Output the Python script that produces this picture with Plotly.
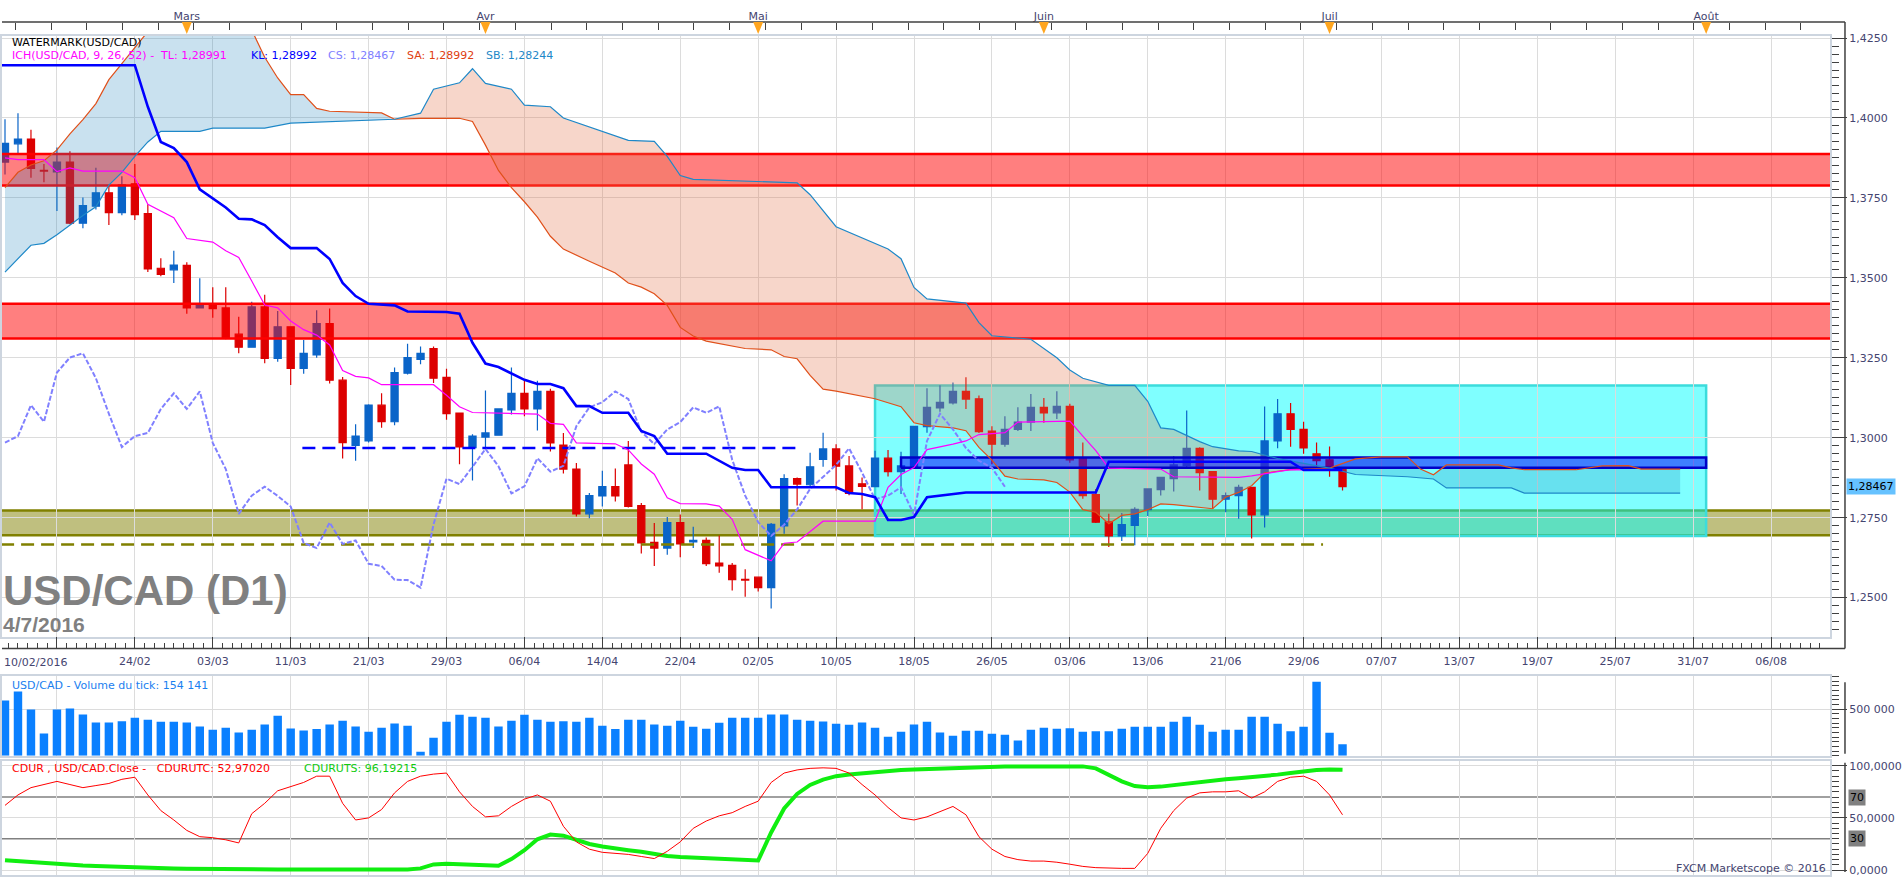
import plotly.graph_objects as go

# ---------------------------------------------------------------------------
# data: one bar per trading day, index 0 = 10/02/2016,
# index 103 = 04/07/2016 (future area on the right is calendar days)
# ---------------------------------------------------------------------------
opens = [1.3862, 1.3919, 1.3934, 1.3836, 1.3831, 1.3862, 1.3671, 1.3724, 1.3766, 1.3704,
         1.3794, 1.3701, 1.3530, 1.3525, 1.3539, 1.3406, 1.3416, 1.3406, 1.3324, 1.3283,
         1.3409, 1.3248, 1.3347, 1.3217, 1.3259, 1.3357, 1.3180, 1.2976, 1.2990, 1.3102,
         1.3050, 1.3202, 1.3245, 1.3279, 1.3189, 1.3077, 1.2969, 1.3002, 1.3008, 1.3087,
         1.3139, 1.3090, 1.3145, 1.2977, 1.2902, 1.2762, 1.2818, 1.2847, 1.2915, 1.2788,
         1.2673, 1.2655, 1.2735, 1.2674, 1.2679, 1.2608, 1.2601, 1.2557, 1.2564, 1.2531,
         1.2724, 1.2872, 1.2853, 1.2932, 1.2965, 1.2912, 1.2856, 1.2847, 1.2936, 1.2894,
         1.2907, 1.3035, 1.3093, 1.3109, 1.3145, 1.3122, 1.3021, 1.2980, 1.3026, 1.3049,
         1.3095, 1.3078, 1.3098, 1.2935, 1.2822, 1.2737, 1.2693, 1.2726, 1.2775, 1.2838,
         1.2872, 1.2913, 1.2967, 1.2894, 1.2808, 1.2819, 1.2845, 1.2759, 1.2990, 1.3075,
         1.3026, 1.2950, 1.2931, 1.2900]
highs = [1.3996, 1.4015, 1.3963, 1.3856, 1.3908, 1.3896, 1.3751, 1.3844, 1.3787, 1.3818,
         1.3856, 1.3730, 1.3561, 1.3585, 1.3549, 1.3499, 1.3471, 1.3471, 1.3378, 1.3425,
         1.3447, 1.3396, 1.3349, 1.3306, 1.3399, 1.3404, 1.3190, 1.3042, 1.3105, 1.3139,
         1.3220, 1.3294, 1.3285, 1.3285, 1.3216, 1.3079, 1.3011, 1.3148, 1.3092, 1.3220,
         1.3180, 1.3178, 1.3153, 1.3015, 1.2921, 1.2827, 1.2897, 1.2904, 1.2990, 1.2796,
         1.2733, 1.2752, 1.2760, 1.2722, 1.2688, 1.2694, 1.2608, 1.2589, 1.2565, 1.2733,
         1.2886, 1.2876, 1.2953, 1.3016, 1.2980, 1.2943, 1.2876, 1.2959, 1.2962, 1.2956,
         1.3037, 1.3155, 1.3164, 1.3173, 1.3189, 1.3132, 1.3036, 1.3067, 1.3095, 1.3137,
         1.3124, 1.3145, 1.3106, 1.2985, 1.2840, 1.2762, 1.2765, 1.2783, 1.2842, 1.2877,
         1.2943, 1.3085, 1.2970, 1.2895, 1.2829, 1.2853, 1.2846, 1.3098, 1.3121, 1.3109,
         1.3050, 1.2985, 1.2973, 1.2905]
lows = [1.3823, 1.3885, 1.3813, 1.3799, 1.3709, 1.3668, 1.3655, 1.3714, 1.3665, 1.3696,
        1.3681, 1.3518, 1.3505, 1.3484, 1.3388, 1.3405, 1.3375, 1.3308, 1.3264, 1.3282,
        1.3233, 1.3238, 1.3165, 1.3200, 1.3250, 1.3170, 1.2935, 1.2928, 1.2985, 1.3031,
        1.3039, 1.3198, 1.3230, 1.3171, 1.3056, 1.2917, 1.2866, 1.2969, 1.3006, 1.3073,
        1.3067, 1.3023, 1.2957, 1.2888, 1.2754, 1.2748, 1.2785, 1.2801, 1.2782, 1.2638,
        1.2599, 1.2634, 1.2626, 1.2655, 1.2599, 1.2578, 1.2522, 1.2503, 1.2519, 1.2466,
        1.2700, 1.2788, 1.2845, 1.2909, 1.2835, 1.2820, 1.2776, 1.2845, 1.2879, 1.2824,
        1.2902, 1.3016, 1.3081, 1.3104, 1.3090, 1.3015, 1.2917, 1.2972, 1.3021, 1.3021,
        1.3047, 1.3059, 1.2922, 1.2809, 1.2733, 1.2658, 1.2677, 1.2664, 1.2755, 1.2819,
        1.2832, 1.2902, 1.2835, 1.2778, 1.2767, 1.2747, 1.2685, 1.2719, 1.2967, 1.2972,
        1.2950, 1.2905, 1.2878, 1.2835]
closes = [1.3921, 1.3934, 1.3842, 1.3834, 1.3862, 1.3671, 1.3726, 1.3766, 1.3704, 1.3791,
          1.3698, 1.3528, 1.3511, 1.3540, 1.3406, 1.3419, 1.3404, 1.3311, 1.3283, 1.3409,
          1.3248, 1.3347, 1.3217, 1.3264, 1.3357, 1.3180, 1.2985, 1.3005, 1.3102, 1.3050,
          1.3204, 1.3251, 1.3264, 1.3186, 1.3075, 1.2971, 1.3005, 1.3015, 1.3090, 1.3139,
          1.3090, 1.3145, 1.2984, 1.2902, 1.2762, 1.2819, 1.2847, 1.2818, 1.2785, 1.2671,
          1.2655, 1.2735, 1.2668, 1.2679, 1.2606, 1.2599, 1.2556, 1.2555, 1.2531, 1.2729,
          1.2872, 1.2855, 1.2909, 1.2965, 1.2911, 1.2826, 1.2848, 1.2936, 1.2894, 1.2912,
          1.3036, 1.3095, 1.3111, 1.3145, 1.3121, 1.3019, 1.2980, 1.3026, 1.3049, 1.3095,
          1.3078, 1.3098, 1.2931, 1.2819, 1.2736, 1.2693, 1.2728, 1.2776, 1.2840, 1.2876,
          1.2915, 1.2967, 1.2891, 1.2808, 1.2819, 1.2845, 1.2759, 1.2990, 1.3075, 1.3026,
          1.2968, 1.2928, 1.2906, 1.28467]

volumes = [593000, 689000, 496000, 239000, 496000, 507000, 443000, 357000, 357000, 371000,
           407000, 386000, 364000, 364000, 357000, 314000, 279000, 300000, 250000, 279000,
           336000, 429000, 293000, 271000, 286000, 336000, 375000, 314000, 257000, 300000,
           346000, 321000, 43000, 193000, 364000, 439000, 418000, 407000, 314000, 375000,
           439000, 386000, 364000, 371000, 364000, 407000, 321000, 286000, 386000, 386000,
           336000, 321000, 375000, 311000, 289000, 354000, 407000, 407000, 407000, 443000,
           443000, 386000, 375000, 368000, 343000, 332000, 357000, 300000, 204000, 257000,
           336000, 364000, 250000, 214000, 268000, 268000, 236000, 225000, 164000, 279000,
           300000, 289000, 296000, 257000, 264000, 264000, 289000, 311000, 311000, 311000,
           364000, 418000, 332000, 257000, 279000, 279000, 418000, 418000, 343000, 264000,
           311000, 793000, 246000, 125000]

cdur_utc = [62, 72, 79, 82, 85, 82, 79, 81, 83, 87,
            89, 72, 57, 48, 38, 32, 31, 29, 26, 54,
            64, 76, 80, 84, 90, 90, 64, 48, 50, 58,
            74, 85, 90, 92, 93, 75, 61, 51, 52, 61,
            68, 72, 66, 42, 27, 20, 17, 16, 15, 13,
            11, 18, 27, 40, 47, 52, 55, 61, 66, 84,
            93, 96, 97.5, 98, 97.5, 93, 82, 72, 60, 50,
            48, 51, 56, 61, 53, 32, 20, 13, 10, 8.6,
            8.6, 7.5, 5.6, 3.5, 2.3, 1.6, 1.6, 1.6, 16, 40,
            57, 69, 74, 75, 75, 76, 69, 75, 85, 89,
            90, 85, 72, 52.97]
cdur_uts = [9.5, 8.5, 7.5, 6.5, 5.8, 5.2, 4.3, 3.8, 3.3, 2.6,
            2.2, 1.9, 1.6, 1.5, 1.2, 1.0, 0.8, 0.6, 0.6, 0.6,
            0.6, 0.6, 0.6, 0.6, 0.6, 0.6, 0.6, 0.6, 0.6, 0.6,
            0.6, 0.6, 1.6, 5.4, 6.0, 5.6, 5.2, 4.6, 4.1, 10.5,
            19, 29.5, 34, 33, 29, 25, 22.5, 20.5, 19, 17.5,
            15.5, 13.5, 12.5, 12, 11.2, 10.5, 9.8, 9.2, 9.2, 36,
            59, 73, 81.6, 86.7, 90, 91.7, 93, 94, 95, 96,
            96.5, 97, 97.5, 98, 98.5, 99, 99.4, 99.4, 99.4, 99.4,
            99.4, 99.4, 99.4, 99.4, 97.5, 91.5, 85, 80.5, 79.4, 80,
            81.5, 83, 84.5, 86, 87, 88, 89, 90, 91.5, 93,
            94.5, 96, 96.5, 96.19]

# Ichimoku lines read as (bar index, price) vertices
tenkan_i = [0, 1, 3, 4, 5, 6, 9, 10, 11, 13, 14, 16, 17, 18, 19, 20, 21, 22, 23, 24,
            25, 26, 27, 28, 29, 33, 34, 35, 36, 41, 42, 43, 44, 47, 48, 49, 50, 51, 52, 54,
            55, 56, 57, 58, 59, 60, 61, 63, 67, 68, 69, 70, 71, 73, 74, 75, 77, 78, 82, 83,
            84, 85, 89, 90, 95, 96, 97, 99, 103]
tenkan_v = [1.3875, 1.3870, 1.3870, 1.3832, 1.3844, 1.3834, 1.3834, 1.3813, 1.3730, 1.3688,
            1.3623, 1.3612, 1.3585, 1.3564, 1.3490, 1.3415, 1.3406, 1.3365, 1.3338, 1.3321,
            1.3290, 1.3210, 1.3192, 1.3187, 1.3166, 1.3166, 1.3133, 1.3097, 1.3079, 1.3074,
            1.3045, 1.3042, 1.2984, 1.2981, 1.2962, 1.2918, 1.2886, 1.2812, 1.2794, 1.2793,
            1.2786, 1.2745, 1.2650, 1.2633, 1.2615, 1.2670, 1.2674, 1.2739, 1.2739, 1.2845,
            1.2885, 1.2907, 1.2963, 1.2980, 1.2990, 1.3010, 1.3016, 1.3049, 1.3052, 1.3005,
            1.2960, 1.2905, 1.2902, 1.2878, 1.2876, 1.2881, 1.2888, 1.2900, 1.28991]

kijun_i = [-0.3, 10, 11, 12, 13, 14, 15, 16, 17, 18, 19, 20, 21, 22, 24, 25, 26, 27, 28, 30,
           31, 34, 35, 36, 37, 38, 39, 40, 41, 42, 43, 44, 45, 46, 48, 49, 50, 51, 54, 55,
           56, 57, 58, 59, 64, 65, 66, 67, 68, 69, 70, 71, 72, 73, 74, 84, 85, 99, 100, 103]
kijun_v = [1.4165, 1.4165, 1.4035, 1.3925, 1.3906, 1.3862, 1.3777, 1.3749, 1.3720, 1.3685,
           1.3683, 1.3665, 1.3627, 1.3593, 1.3593, 1.3559, 1.3484, 1.3443, 1.3419, 1.3414,
           1.3395, 1.3393, 1.3388, 1.3297, 1.3232, 1.3221, 1.3200, 1.3181, 1.3168, 1.3168,
           1.3155, 1.3099, 1.3099, 1.3078, 1.3078, 1.3021, 1.3005, 1.2950, 1.2950, 1.2929,
           1.2906, 1.2899, 1.2899, 1.2845, 1.2845, 1.2827, 1.2824, 1.2814, 1.2743, 1.2743,
           1.2752, 1.2814, 1.2819, 1.2824, 1.2829, 1.2829, 1.2925, 1.2925, 1.28992, 1.28992]

# lagging span, bars 0..77
chikou = [1.2985, 1.3005, 1.3102, 1.3050, 1.3204, 1.3251, 1.3264, 1.3186, 1.3075, 1.2971,
          1.3005, 1.3015, 1.3090, 1.3139, 1.3090, 1.3145, 1.2984, 1.2902, 1.2762, 1.2819,
          1.2847, 1.2818, 1.2785, 1.2671, 1.2655, 1.2735, 1.2668, 1.2679, 1.2606, 1.2599,
          1.2556, 1.2555, 1.2531, 1.2729, 1.2872, 1.2855, 1.2909, 1.2965, 1.2911, 1.2826,
          1.2848, 1.2936, 1.2894, 1.2912, 1.3036, 1.3095, 1.3111, 1.3145, 1.3121, 1.3019,
          1.2980, 1.3026, 1.3049, 1.3095, 1.3078, 1.3098, 1.2931, 1.2819, 1.2736, 1.2693,
          1.2728, 1.2776, 1.2840, 1.2876, 1.2915, 1.2967, 1.2891, 1.2808, 1.2819, 1.2845,
          1.2759, 1.2990, 1.3075, 1.3026, 1.2968, 1.2928, 1.2906, 1.28467]

span_a_i = [0, 1, 2, 3, 4, 5, 6, 7, 8, 9, 10, 11, 12, 14, 16, 18, 19, 20, 21, 22,
            23, 24, 25, 29, 30, 32, 35, 36, 37, 38, 39, 40, 41, 42, 43, 45, 47, 48, 49, 50,
            51, 52, 53, 54, 57, 59, 60, 61, 62, 63, 64, 67, 68, 69, 70, 71, 73, 74, 75, 76,
            77, 78, 80, 81, 82, 83, 84, 85, 86, 87, 88, 89, 90, 92, 93, 94, 95, 96, 97, 99,
            102, 104, 106, 108, 109, 110, 111, 115, 116, 117, 121, 123, 125, 126, 129]
span_a_v = [1.3782, 1.3830, 1.3853, 1.3866, 1.3900, 1.3950, 1.3995, 1.4045, 1.4120, 1.4170,
            1.4220, 1.4268, 1.4320, 1.4390, 1.4400, 1.4340, 1.4275, 1.4190, 1.4125, 1.4073,
            1.4073, 1.4030, 1.4021, 1.4016, 1.3996, 1.3999, 1.3999, 1.3989, 1.3915, 1.3836,
            1.3782, 1.3738, 1.3690, 1.3630, 1.3590, 1.3552, 1.3515, 1.3484, 1.3471, 1.3450,
            1.3414, 1.3345, 1.3318, 1.3302, 1.3279, 1.3275, 1.3254, 1.3247, 1.3195, 1.3152,
            1.3146, 1.3122, 1.3109, 1.3097, 1.3047, 1.3038, 1.3031, 1.3022, 1.2970, 1.2930,
            1.2880, 1.2871, 1.2868, 1.2860, 1.2830, 1.2775, 1.2767, 1.2731, 1.2757, 1.2762,
            1.2775, 1.2793, 1.2791, 1.2781, 1.2778, 1.2814, 1.2829, 1.2850, 1.2890, 1.2900,
            1.2905, 1.2934, 1.2940, 1.2940, 1.2902, 1.2884, 1.2915, 1.2915, 1.2906, 1.2900,
            1.2900, 1.2912, 1.2913, 1.2902, 1.2902]

span_b_i = [0, 1, 2, 3, 4, 6, 7, 8, 9, 10, 11, 12, 15, 16, 20, 22, 28, 30, 32, 33,
            35, 36, 37, 39, 40, 42, 43, 46, 48, 50, 51, 52, 53, 61, 62, 64, 68, 69, 70, 71,
            74, 75, 76, 79, 81, 82, 83, 85, 87, 88, 89, 90, 92, 93, 95, 96, 98, 100, 102, 104,
            106, 108, 110, 111, 116, 117, 129]
span_b_v = [1.3518, 1.3560, 1.3602, 1.3608, 1.3635, 1.3695, 1.3722, 1.3790, 1.3830, 1.3880,
            1.3925, 1.3958, 1.3958, 1.3968, 1.3968, 1.3984, 1.3992, 1.3996, 1.4015, 1.4090,
            1.4110, 1.4154, 1.4108, 1.4090, 1.4040, 1.4035, 1.4000, 1.3958, 1.3930, 1.3927,
            1.3880, 1.3820, 1.3808, 1.3797, 1.3760, 1.3660, 1.3590, 1.3560, 1.3470, 1.3434,
            1.3421, 1.3360, 1.3319, 1.3308, 1.3250, 1.3212, 1.3186, 1.3164, 1.3164, 1.3114,
            1.3031, 1.3026, 1.2988, 1.2972, 1.2959, 1.2957, 1.2935, 1.2920, 1.2905, 1.2885,
            1.2881, 1.2878, 1.2871, 1.2843, 1.2843, 1.2827, 1.2827]

cloud_cross = [0, 30, 102, 129]          # where span A and span B swap

# drawn zones / levels
red_zones = [(1.37888, 1.38873), (1.33106, 1.34193)]
olive_zone = (1.26947, 1.27724)
olive_level, olive_from, olive_to = 1.26658, -0.3, 101.5
blue_level, blue_from, blue_to = 1.2968, 22.9, 60.9
cyan_box = (67.0, 131.0, 1.26925, 1.31637)
blue_box = (69.0, 131.0, 1.2906, 1.2938)
osc_levels = [70, 30]

date_idx = [4, 10, 16, 22, 28, 34, 40, 46, 52, 58, 64, 70, 76, 82, 88, 94, 100,
            106, 112, 118, 124, 130, 136]
date_lbl = ["", "24/02", "03/03", "11/03", "21/03", "29/03", "06/04", "14/04", "22/04",
            "02/05", "10/05", "18/05", "26/05", "03/06", "13/06", "21/06", "29/06",
            "07/07", "13/07", "19/07", "25/07", "31/07", "06/08"]
month_idx = [14, 37, 58, 80, 102, 131]
month_lbl = ["Mars", "Avr", "Mai", "Juin", "Juil", "Août"]

# ---------------------------------------------------------------------------
FIG_W, FIG_H = 1903, 878
PANEL_R = 1830      # right edge of the panels, px
AXIS_R = 1845       # dark axis rule, px
X_OFF, BAR_PX = 3, 13
x_range = [-X_OFF / BAR_PX, (PANEL_R - X_OFF) / BAR_PX]


def fx(p):
    return p / PANEL_R


def fy(p):
    return (FIG_H - p) / FIG_H


FONT = "DejaVu Sans"
TXT = "#454570"
GRID = "#dcdcdc"
FRAME = "#cdd5df"
DARK = "#404040"

idx = list(range(len(closes)))
fig = go.Figure()

# red resistance zones (above candles)
for lo, hi in red_zones:
    fig.add_trace(go.Scatter(x=[-1, 142, 142, -1, -1], y=[lo, lo, hi, hi, lo],
                             mode="lines", fill="toself", fillcolor="rgba(255,0,0,0.5)",
                             line=dict(color="#ff0000", width=2.5), hoverinfo="skip"))

# cloud
cloud_cols = ["rgba(30,130,190,0.24)", "rgba(230,120,80,0.30)", "rgba(30,130,190,0.24)"]
for k in range(len(cloud_cross) - 1):
    a, b = cloud_cross[k], cloud_cross[k + 1]
    xa = [i for i in span_a_i if a <= i <= b]
    ya = [v for i, v in zip(span_a_i, span_a_v) if a <= i <= b]
    xb = [i for i in span_b_i if a <= i <= b]
    yb = [v for i, v in zip(span_b_i, span_b_v) if a <= i <= b]
    fig.add_trace(go.Scatter(x=xa + xb[::-1], y=ya + yb[::-1], mode="lines",
                             fill="toself", fillcolor=cloud_cols[k],
                             line=dict(width=0), hoverinfo="skip"))

# blue box
x0, x1, lo, hi = blue_box
fig.add_trace(go.Scatter(x=[x0, x1, x1, x0, x0], y=[lo, lo, hi, hi, lo], mode="lines",
                         fill="toself", fillcolor="rgba(0,0,255,0.5)",
                         line=dict(color="#0000c8", width=2.5), hoverinfo="skip"))

fig.add_trace(go.Scatter(x=span_a_i, y=span_a_v, mode="lines",
                         line=dict(color="#e0501a", width=1.2), hoverinfo="skip"))
fig.add_trace(go.Scatter(x=span_b_i, y=span_b_v, mode="lines",
                         line=dict(color="#1e88c8", width=1.2), hoverinfo="skip"))

fig.add_trace(go.Scatter(x=[olive_from, olive_to], y=[olive_level, olive_level], mode="lines",
                         line=dict(color="#808000", width=2.5, dash="13px,7px"),
                         hoverinfo="skip"))
fig.add_trace(go.Scatter(x=[blue_from, blue_to], y=[blue_level, blue_level], mode="lines",
                         line=dict(color="#0000ff", width=2.5, dash="13px,7px"),
                         hoverinfo="skip"))

fig.add_trace(go.Scatter(x=list(range(len(chikou))), y=chikou, mode="lines",
                         line=dict(color="#8080ff", width=2, dash="5px,2px"),
                         hoverinfo="skip"))
fig.add_trace(go.Scatter(x=tenkan_i, y=tenkan_v, mode="lines",
                         line=dict(color="#ff00ff", width=1.2), hoverinfo="skip"))
fig.add_trace(go.Scatter(x=kijun_i, y=kijun_v, mode="lines",
                         line=dict(color="#0000ff", width=2.6), hoverinfo="skip"))

fig.add_trace(go.Candlestick(
    x=idx, open=opens, high=highs, low=lows, close=closes, whiskerwidth=0,
    increasing=dict(line=dict(color="#0a64c8", width=1.2), fillcolor="#0a64c8"),
    decreasing=dict(line=dict(color="#dc0000", width=1.2), fillcolor="#dc0000"),
    hoverinfo="skip"))

# volume
fig.add_trace(go.Bar(x=idx, y=volumes, xaxis="x2", yaxis="y2", width=0.65,
                     marker=dict(color="#0a80ff", line=dict(width=0)), hoverinfo="skip"))

# oscillator
fig.add_trace(go.Scatter(x=idx, y=cdur_uts, xaxis="x3", yaxis="y3", mode="lines",
                         line=dict(color="#10ee10", width=4), hoverinfo="skip"))
fig.add_trace(go.Scatter(x=idx, y=cdur_utc, xaxis="x3", yaxis="y3", mode="lines",
                         line=dict(color="#ff0000", width=1), hoverinfo="skip"))

# carriers for the month axis (top) and the date axis (bottom)
for ax in ("x4", "x5"):
    fig.add_trace(go.Scatter(x=[0], y=[1.3], xaxis=ax, yaxis="y", mode="markers",
                             marker=dict(opacity=0), hoverinfo="skip"))

tick_font = dict(family=FONT, size=11, color=TXT)
xcommon = dict(range=x_range, showticklabels=False, ticks="", tickmode="array",
               tickvals=date_idx, showgrid=True, gridcolor=GRID, gridwidth=1,
               zeroline=False, showline=True, mirror=True, linecolor=FRAME, linewidth=2)
ycommon = dict(side="right", ticks="outside", ticklen=15, tickcolor=DARK, tickwidth=1,
               showgrid=True, gridcolor=GRID, zeroline=False, showline=True, mirror=True,
               linecolor=FRAME, linewidth=2, tickfont=tick_font, ticklabeloverflow="allow")

fig.update_layout(
    width=FIG_W, height=FIG_H, margin=dict(l=0, r=FIG_W - PANEL_R, t=0, b=0),
    paper_bgcolor="white", plot_bgcolor="white", showlegend=False,
    separators=", ", boxgap=0.45, boxgroupgap=0, hovermode=False,
    xaxis=dict(**xcommon, anchor="y", rangeslider=dict(visible=False)),
    xaxis2=dict(**xcommon, anchor="y2"),
    xaxis3=dict(**xcommon, anchor="y3"),
    xaxis4=dict(overlaying="x", anchor="free", position=fy(18), side="top",
                range=x_range, tickmode="array", tickvals=month_idx, ticktext=month_lbl,
                ticks="inside", ticklen=0, showgrid=False, zeroline=False, showline=False,
                tickfont=tick_font,
                minor=dict(ticks="inside", ticklen=7, tickcolor=DARK, tickmode="linear",
                           tick0=0.8, dtick=2.75, showgrid=False)),
    xaxis5=dict(overlaying="x", anchor="free", position=fy(649), side="bottom",
                range=x_range, tickmode="array", tickvals=date_idx, ticktext=date_lbl,
                ticks="inside", ticklen=12, tickcolor=DARK, showgrid=False, zeroline=False,
                showline=False, tickfont=tick_font, ticklabelstandoff=4,
                minor=dict(ticks="inside", ticklen=6, tickcolor=DARK, tickmode="linear",
                           tick0=4, dtick=0.75, showgrid=False)),
    yaxis=dict(**ycommon, domain=[fy(637), fy(32)], range=[1.2378, 1.4257],
               tickmode="linear", tick0=1.25, dtick=0.025, tickformat=".4f",
               minor=dict(ticks="outside", ticklen=7, tickcolor=DARK, dtick=0.0025,
                          showgrid=False)),
    yaxis2=dict(**ycommon, domain=[fy(757), fy(677)], range=[0, 851000],
                tickmode="array", tickvals=[500000], tickformat=",d",
                minor=dict(ticks="outside", ticklen=7, tickcolor=DARK, tickmode="linear",
                           tick0=0, dtick=50000, showgrid=False)),
    yaxis3=dict(**ycommon, domain=[fy(877), fy(762)], range=[-4.76, 104.76],
                tickmode="array", tickvals=[0, 50, 100], tickformat=".4f",
                minor=dict(ticks="outside", ticklen=7, tickcolor=DARK, tickmode="linear",
                           tick0=0, dtick=5, showgrid=False)),
)

shapes = []
# olive support zone and cyan box under the candles
lo, hi = olive_zone
shapes.append(dict(type="rect", layer="below", xref="paper", yref="y", x0=0, x1=1,
                   y0=lo, y1=hi, fillcolor="rgba(128,128,0,0.5)", line=dict(width=0)))
for v in olive_zone:
    shapes.append(dict(type="line", layer="below", xref="paper", yref="y", x0=0, x1=1,
                       y0=v, y1=v, line=dict(color="#808000", width=2.5)))
x0, x1, lo, hi = cyan_box
shapes.append(dict(type="rect", layer="below", xref="x", yref="y", x0=x0, x1=x1,
                   y0=lo, y1=hi, fillcolor="rgba(0,255,255,0.5)",
                   line=dict(color="#3cdcdc", width=2.5)))
for v in osc_levels:
    shapes.append(dict(type="line", xref="paper", yref="y3", x0=0, x1=1, y0=v, y1=v,
                       layer="below", line=dict(color="#808080", width=1.5)))
# dark axis rules
rules = [(0, 18, AXIS_R, 18), (AXIS_R, 18, AXIS_R, 649), (0, 649, AXIS_R, 649),
         (AXIS_R, 683, AXIS_R, 755), (AXIS_R, 764, AXIS_R, 874)]
for a, b, c, d in rules:
    shapes.append(dict(type="line", xref="paper", yref="paper", x0=fx(a), y0=fy(b),
                       x1=fx(c), y1=fy(d), line=dict(color=DARK, width=1.5)))
# month markers
for m in month_idx:
    shapes.append(dict(type="path", xref="x", yref="paper", xsizemode="pixel",
                       ysizemode="pixel", xanchor=m, yanchor=fy(18),
                       path="M-5,0 L5,0 L0,-12 Z", fillcolor="#ffa51e", line=dict(width=0)))
fig.update_layout(shapes=shapes)


def note(text, x, y, color, size=11, family=FONT, anchor="left", **kw):
    fig.add_annotation(text=text, xref="paper", yref="paper", x=fx(x), y=fy(y),
                       xanchor=anchor, yanchor="middle", showarrow=False,
                       font=dict(family=family, size=size, color=color), **kw)


note("WATERMARK(USD/CAD)", 8, 39, "#000000")
note("ICH(USD/CAD, 9, 26, 52) -  TL: 1,28991", 8, 52, "#ff00ff")
note("KL: 1,28992", 247, 52, "#0000ff")
note("CS: 1,28467", 324, 52, "#8080ff")
note("SA: 1,28992", 403, 52, "#e04010")
note("SB: 1,28244", 483, 52, "#1e88c8")
note("<b>USD/CAD (D1)</b>", -1, 591, "#808080", size=42, family="Liberation Sans")
note("<b>4/7/2016</b>", -1, 625, "#808080", size=21, family="Liberation Sans")
note("10/02/2016", 0, 663, TXT)
note("USD/CAD - Volume du tick: 154 141", 8, 686, "#1a80f0")
note("CDUR , USD/CAD.Close -   CDURUTC: 52,97020", 8, 770, "#ff0000")
note("CDURUTS: 96,19215", 300, 770, "#10cc10")
note("FXCM Marketscope \u00a9 2016", 1828, 870, TXT, anchor="right")

fig.add_annotation(text="1,28467", xref="paper", yref="y", x=fx(1846), y=closes[-1],
                   xanchor="left", yanchor="middle", showarrow=False, bgcolor="#66c2ff",
                   borderpad=1, font=dict(family=FONT, size=11, color="#000000"))
for v in osc_levels:
    fig.add_annotation(text=str(v), xref="paper", yref="y3", x=fx(1848), y=v,
                       xanchor="left", yanchor="middle", showarrow=False,
                       bgcolor="#808080", borderpad=1,
                       font=dict(family=FONT, size=11, color="#000000"))

fig.write_html("out.html", config={"displayModeBar": False},
               post_script="document.body.style.margin='0';document.body.style.overflow='hidden';")
